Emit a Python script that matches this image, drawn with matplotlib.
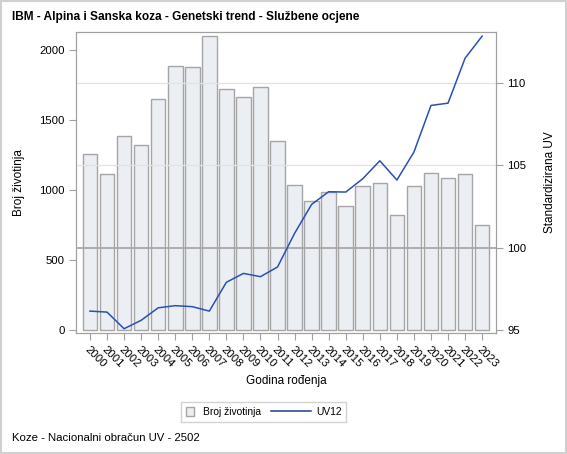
import matplotlib.pyplot as plt
import matplotlib.patches as mpatches
from matplotlib.lines import Line2D
from matplotlib.legend_handler import HandlerPatch, HandlerLine2D
import numpy as np

plt.rcParams['font.family'] = ['Liberation Sans', 'DejaVu Sans']

years = [str(y) for y in range(2000, 2024)]
broj = [1255, 1114, 1383, 1321, 1650, 1883, 1876, 2102, 1724, 1667, 1733, 1352,
        1035, 921, 988, 883, 1031, 1048, 819, 1026, 1119, 1088, 1114, 750]
uv12 = [96.15, 96.09, 95.08, 95.59, 96.35, 96.48, 96.42, 96.15, 97.9, 98.44, 98.24, 98.83,
        100.87, 102.63, 103.4, 103.38, 104.19, 105.28, 104.11, 105.81, 108.64, 108.78, 111.51, 112.85]

fig = plt.figure(figsize=(5.67, 4.54), dpi=100)
ax = fig.add_axes([0.134, 0.2665, 0.741, 0.663])
ax2 = ax.twinx()

x = np.arange(len(years))
ax.bar(x, broj, width=0.86, color='#ebeef3', edgecolor='#a5a5a5', linewidth=1.0, zorder=2)
ax.set_xlim(-0.82, len(years) - 1 + 0.82)
ax.set_ylim(-21, 2129)
ax.set_yticks([0, 500, 1000, 1500, 2000])
ax.set_xticks(x)
ax.set_xticklabels(years, rotation=-45, ha='left', va='top', rotation_mode='anchor')

ax2.set_ylim(94.82, 113.1)
ax2.set_yticks([95, 100, 105, 110])
for v in [105, 110]:
    ax2.axhline(v, color='#e2e2e2', lw=0.9, zorder=0)
ax2.axhline(100, color='#a8a8a8', lw=1.3, zorder=3)
ax2.plot(x, uv12, color='#2b50b5', lw=1.1, zorder=4)

ax.set_zorder(ax2.get_zorder() - 1)
ax.patch.set_visible(True)
ax2.patch.set_visible(False)

for a in (ax, ax2):
    for s in a.spines.values():
        s.set_color('#a0a0a0')
    a.tick_params(colors='#a0a0a0', labelcolor='black', labelsize=8.2, length=5, pad=3)

ax.set_ylabel('Broj životinja', fontsize=8.5, labelpad=10)
ax2.set_ylabel('Standardizirana UV', fontsize=8.5, labelpad=13)
ax.set_xlabel('Godina rođenja', fontsize=8.5, labelpad=4)

fig.text(0.021, 0.963, 'IBM - Alpina i Sanska koza - Genetski trend - Službene ocjene',
         fontsize=8.6, fontweight='bold', va='center')
fig.text(0.021, 0.035, 'Koze - Nacionalni obračun UV - 2502', fontsize=8.2, va='center')


def square_patch(legend, orig_handle, xdescent, ydescent, width, height, fontsize):
    s = height * 1.15
    return mpatches.Rectangle((-xdescent, -ydescent + (height - s) / 2), s, s)


class LongLine(HandlerLine2D):
    # stretch the line to the left, into the column gap
    def create_artists(self, legend, orig_handle, xdescent, ydescent, width, height,
                       fontsize, trans):
        extra = 20
        y = -ydescent + height / 2
        ln = Line2D([-xdescent - extra, -xdescent + width], [y, y])
        self.update_prop(ln, orig_handle, legend)
        ln.set_transform(trans)
        return [ln]


handles = [mpatches.Patch(facecolor='#ebeef3', edgecolor='#a5a5a5'),
           Line2D([0], [0], color='#1f3a93', lw=1.1)]
leg = fig.legend(handles, ['Broj životinja', 'UV12'], loc='center',
                 bbox_to_anchor=(0.465, 0.0925), ncol=2, fontsize=7.4, frameon=True,
                 fancybox=False, handlelength=1.2, columnspacing=3.7, borderpad=0.45,
                 handletextpad=0.45,
                 handler_map={mpatches.Patch: HandlerPatch(patch_func=square_patch),
                              Line2D: LongLine()})
leg.get_frame().set_edgecolor('#c8c8c8')
leg.get_frame().set_linewidth(1.0)

fig.patches.append(mpatches.Rectangle((0.002, 0.002), 0.996, 0.996, transform=fig.transFigure,
                                      fill=False, edgecolor='#d0d0d0', lw=1.5))

fig.savefig('out.png', dpi=100)
